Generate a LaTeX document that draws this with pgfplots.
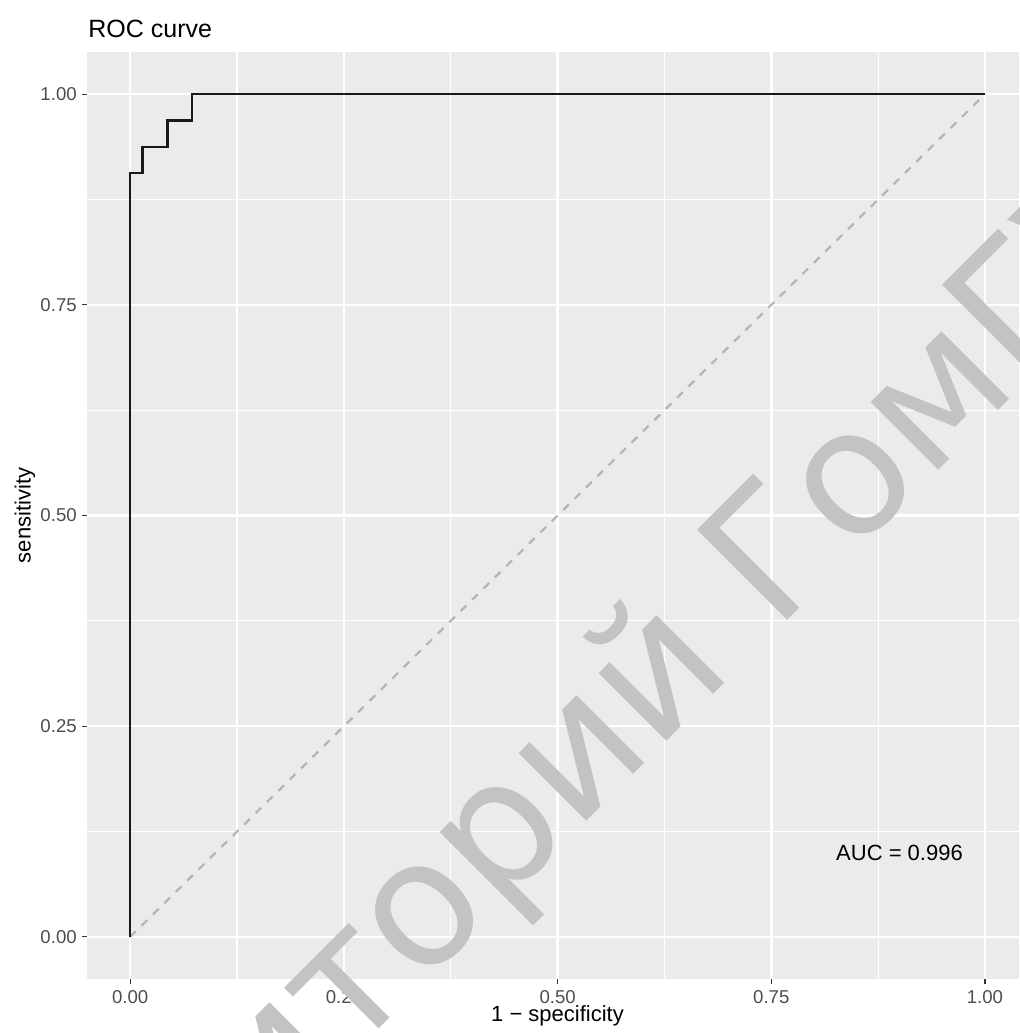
\documentclass[border=0pt]{standalone}
\usepackage{fontspec}
\setmainfont{Liberation Sans}
\newfontfamily\wmfont{DejaVu Sans}
\usepackage{pgfplots}
\pgfplotsset{compat=1.18}

\definecolor{panelbg}{HTML}{EBEBEB}
\definecolor{ticktext}{HTML}{4D4D4D}
\definecolor{tickmark}{HTML}{333333}
\definecolor{diag}{HTML}{B4B4B4}
\definecolor{wmark}{HTML}{C3C3C3}

\begin{document}
\begin{tikzpicture}
\begin{axis}[
    name=roc,
    scale only axis,
    width=465.75pt, height=463.5pt,
    at={(43.75pt,-489.5pt)}, anchor=south west,
    xmin=-0.05, xmax=1.0398,
    ymin=-0.05, ymax=1.05,
    axis background/.style={fill=panelbg},
    axis line style={draw=none},
    xtick={0,0.25,0.5,0.75,1},
    ytick={0,0.25,0.5,0.75,1},
    xticklabels={0.00,0.25,0.50,0.75,1.00},
    yticklabels={0.00,0.25,0.50,0.75,1.00},
    minor xtick={0.125,0.375,0.625,0.875},
    minor ytick={0.125,0.375,0.625,0.875},
    grid=both,
    major grid style={white, line width=1.2pt},
    minor grid style={white, line width=0.6pt},
    tick pos=left,
    tick align=outside,
    major tick length=2.6pt,
    minor tick length=0pt,
    major tick style={draw=tickmark, line width=0.55pt},
    ticklabel style={font=\fontsize{9.3}{11}\selectfont, text=ticktext, inner sep=0pt},
    xticklabel style={anchor=north, yshift=-2.9pt},
    yticklabel style={anchor=east, xshift=-2.6pt},
    xlabel={1 − specificity},
    ylabel={sensitivity},
    label style={font=\fontsize{11}{13}\selectfont},
    xlabel style={at={(axis description cs:0.5046,0)}, anchor=north, yshift=-13pt, inner sep=0pt},
    ylabel style={at={(axis description cs:0,0.5)}, anchor=south, yshift=26pt, inner sep=0pt},
]
% chance diagonal
\addplot[diag, line width=1.1pt, dash pattern=on 4pt off 4pt] coordinates {(0,0) (1,1)};
% ROC curve (fpr, tpr)
\addplot[black!90, line width=1.15pt, line join=miter] coordinates {
    (0,0) (0,0.90625) (0.01449,0.90625) (0.01449,0.9375)
    (0.04348,0.9375) (0.04348,0.96875) (0.07246,0.96875)
    (0.07246,1) (1,1)
};
\node[font=\fontsize{11}{13}\selectfont] at (axis cs:0.9,0.1) {AUC = 0.996};
\end{axis}

\node[anchor=base west, font=\fontsize{12.5}{14}\selectfont, inner sep=0pt] at (44pt,-19pt) {ROC curve};

% repository watermark
\node[anchor=base west, rotate=45, inner sep=0pt, text=wmark, font=\wmfont\fontsize{87.5}{95}\selectfont] at (387.75pt,-316.25pt) {ГомГУ};
\node[anchor=base east, rotate=45, inner sep=0pt, text=wmark, font=\wmfont\fontsize{87.5}{95}\selectfont] at (368pt,-336pt) {Репозиторий};

\pgfresetboundingbox
\path[use as bounding box] (0,0) rectangle (509.5pt,-516.5pt);
\end{tikzpicture}
\end{document}
